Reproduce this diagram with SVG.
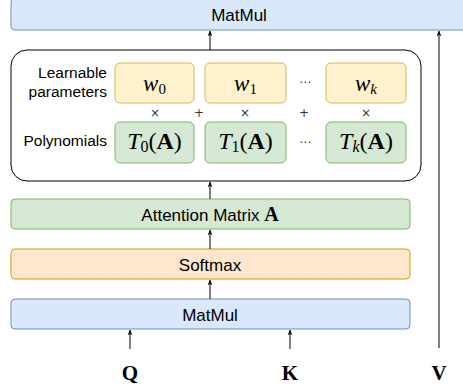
<svg xmlns="http://www.w3.org/2000/svg" width="463" height="387" viewBox="0 0 463 387">
<style>
.lbl{font-family:"Liberation Sans",Arial,sans-serif;font-size:17px;fill:#000;}
.side{font-family:"Liberation Sans",Arial,sans-serif;font-size:15.5px;fill:#000;}
.m{font-family:"Liberation Serif","Times New Roman",serif;fill:#000;}
.mi{font-style:italic;}
.mb{font-weight:bold;}
.op{font-family:"DejaVu Sans",sans-serif;font-size:12px;fill:#333;}
.blue{fill:#dae8fc;stroke:#6c8ebf;}
.green{fill:#d5e8d4;stroke:#82b366;}
.orange{fill:#ffe6cc;stroke:#d79b00;}
.yellow{fill:#fff2cc;stroke:#d6b656;}
.edge{stroke:#000;stroke-width:1;fill:none;}
</style>
<defs>
<marker id="arr" viewBox="0 0 10 10" refX="9" refY="5" markerWidth="6" markerHeight="6" orient="auto">
<path d="M0,1 L10,5 L0,9 L3,5 Z" fill="#000"/>
</marker>
</defs>
<g id="matmul-top">
<rect class="blue" x="11" y="-2" width="460" height="32" rx="4"/>
<text class="lbl" x="239" y="20.5" text-anchor="middle">MatMul</text>
</g>
<g id="container">
<rect x="11" y="50" width="410" height="131" rx="16" fill="#fff" stroke="#000"/>
<text class="side" x="107" y="78" text-anchor="end">Learnable</text>
<text class="side" x="107" y="97" text-anchor="end">parameters</text>
<text class="side" x="107" y="146" text-anchor="end">Polynomials</text>
</g>
<g id="w0"><rect class="yellow" x="115" y="63" width="79" height="40" rx="5"/>
<text class="m" x="154.5" y="91" text-anchor="middle" font-size="23"><tspan class="mi">w</tspan><tspan font-size="15" dy="3">0</tspan></text></g>
<g id="w1"><rect class="yellow" x="205" y="63" width="81" height="40" rx="5"/>
<text class="m" x="245.5" y="91" text-anchor="middle" font-size="23"><tspan class="mi">w</tspan><tspan font-size="15" dy="3">1</tspan></text></g>
<g id="wk"><rect class="yellow" x="326" y="63" width="80" height="40" rx="5"/>
<text class="m" x="366" y="91" text-anchor="middle" font-size="23"><tspan class="mi">w</tspan><tspan class="mi" font-size="15" dy="3">k</tspan></text></g>
<g id="T0"><rect class="green" x="115" y="122" width="79" height="41" rx="5"/>
<text class="m" x="154.5" y="149" text-anchor="middle" font-size="24"><tspan class="mi">T</tspan><tspan font-size="16" dy="3">0</tspan><tspan dy="-3">(</tspan><tspan class="mb">A</tspan>)</text></g>
<g id="T1"><rect class="green" x="205" y="122" width="81" height="41" rx="5"/>
<text class="m" x="245.5" y="149" text-anchor="middle" font-size="24"><tspan class="mi">T</tspan><tspan font-size="16" dy="3">1</tspan><tspan dy="-3">(</tspan><tspan class="mb">A</tspan>)</text></g>
<g id="Tk"><rect class="green" x="326" y="122" width="80" height="41" rx="5"/>
<text class="m" x="366" y="149" text-anchor="middle" font-size="24"><tspan class="mi">T</tspan><tspan class="mi" font-size="16" dy="3">k</tspan><tspan dy="-3">(</tspan><tspan class="mb">A</tspan>)</text></g>
<g id="ops">
<text class="op" x="155" y="116.5" text-anchor="middle">×</text>
<text class="op" x="245" y="116.5" text-anchor="middle">×</text>
<text class="op" x="366" y="116.5" text-anchor="middle">×</text>
<text class="op" x="199" y="116.5" text-anchor="middle">+</text>
<text class="op" x="304" y="116.5" text-anchor="middle">+</text>
<text class="op" x="305" y="86" text-anchor="middle">⋯</text>
<text class="op" x="305" y="146" text-anchor="middle">⋯</text>
</g>
<g id="attention"><rect class="green" x="11" y="199" width="399" height="30" rx="4"/>
<text class="lbl" x="210" y="220.5" text-anchor="middle">Attention Matrix <tspan class="m mb" font-size="20">A</tspan></text></g>
<g id="softmax"><rect class="orange" x="11" y="249" width="399" height="30" rx="4"/>
<text class="lbl" x="210" y="270.5" text-anchor="middle">Softmax</text></g>
<g id="matmul-bottom"><rect class="blue" x="11" y="299" width="399" height="30" rx="4"/>
<text class="lbl" x="210" y="320.5" text-anchor="middle">MatMul</text></g>
<g id="inputs">
<text class="m mb" x="130" y="380" text-anchor="middle" font-size="21">Q</text>
<text class="m mb" x="290" y="380" text-anchor="middle" font-size="21">K</text>
<text class="m mb" x="439" y="380" text-anchor="middle" font-size="21">V</text>
</g>
<g id="connectors">
<line class="edge" x1="210" y1="50" x2="210" y2="31" marker-end="url(#arr)"/>
<line class="edge" x1="439" y1="348" x2="439" y2="31" marker-end="url(#arr)"/>
<line class="edge" x1="210" y1="199" x2="210" y2="182" marker-end="url(#arr)"/>
<line class="edge" x1="210" y1="249" x2="210" y2="230" marker-end="url(#arr)"/>
<line class="edge" x1="210" y1="299" x2="210" y2="280" marker-end="url(#arr)"/>
<line class="edge" x1="130" y1="349" x2="130" y2="330" marker-end="url(#arr)"/>
<line class="edge" x1="290" y1="349" x2="290" y2="330" marker-end="url(#arr)"/>
</g>
</svg>
